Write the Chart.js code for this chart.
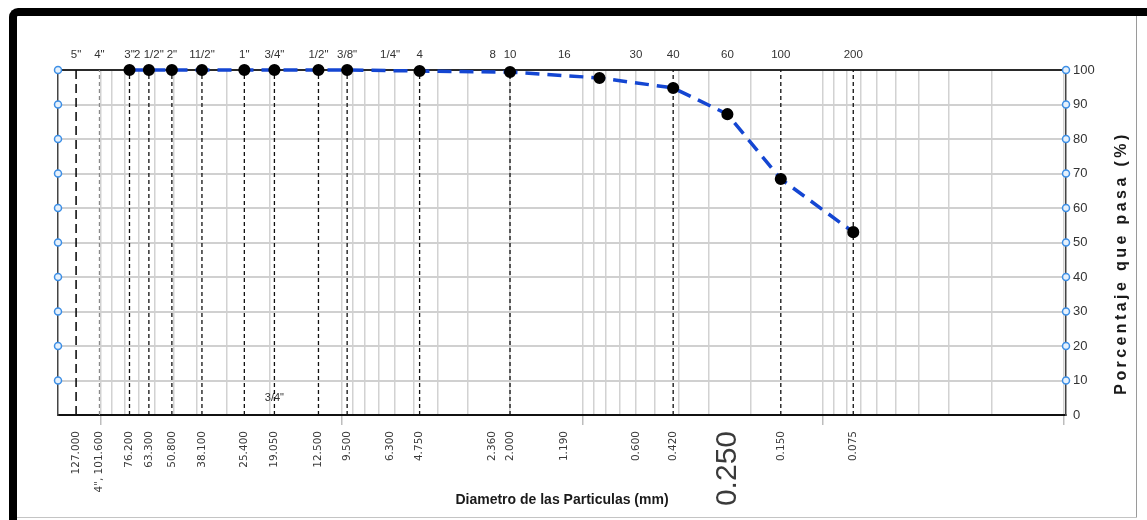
<!DOCTYPE html>
<html>
<head>
<meta charset="utf-8">
<script src="https://cdn.jsdelivr.net/npm/chart.js@4.4.0/dist/chart.umd.min.js"></script>
<style>
  body { margin: 0; background: #fff; overflow: hidden; }
  #frame { position: absolute; left: 9px; top: 8px; width: 1160px; height: 530px; border-top: 8px solid #000; border-left: 8px solid #000; border-top-left-radius: 9px; box-sizing: border-box; }
  #edgeR { position: absolute; left: 1136px; top: 16px; width: 1px; height: 502px; background: #9a9a9a; }
  #edgeB { position: absolute; left: 17px; top: 517px; width: 1120px; height: 1px; background: #c4c4c4; }
  canvas { position: absolute; left: 0; top: 0; }
</style>
</head>
<body>
<div id="frame"></div><div id="edgeR"></div><div id="edgeB"></div>
<canvas id="granChart" width="1147" height="520"></canvas>
<script>
// tamices (mm), nombre arriba, rotulo abajo
const sieveMm = [127, 101.6, 76.2, 63.3, 50.8, 38.1, 25.4, 19.05, 12.5, 9.5, 6.3, 4.75, 2.36, 2.0, 1.19, 0.6, 0.42, 0.25, 0.15, 0.075];
const sieveNames = ['5"', '4"', '3"', '2 1/2"', '2"', '11/2"', '1"', '3/4"', '1/2"', '3/8"', '1/4"', '4', '8', '10', '16', '30', '40', '60', '100', '200'];
const sieveLabels = ['127.000', '4", 101.600', '76.200', '63.300', '50.800', '38.100', '25.400', '19.050', '12.500', '9.500', '6.300', '4.750', '2.360', '2.000', '1.190', '0.600', '0.420', '0.250', '0.150', '0.075'];
const bigLabelMm = 0.25;

// lineas verticales punteadas
const guideMm = [76.2, 63.3, 50.8, 38.1, 25.4, 19.05, 12.5, 9.5, 4.75, 2.0, 0.42, 0.15, 0.075];
const guideLongMm = [127];
const guideGrayMm = [101.6];

// curva granulometrica
const testMm = [76.2, 63.3, 50.8, 38.1, 25.4, 19.05, 12.5, 9.5, 4.75, 2.0, 0.85, 0.42, 0.25, 0.15, 0.075];
const testPasa = [100, 100, 100, 100, 100, 100, 100, 100, 99.7, 99.4, 97.7, 94.8, 87.2, 68.4, 53.0];

const yTicks = [0, 10, 20, 30, 40, 50, 60, 70, 80, 90, 100];
const smallMarkMm = [127, 101.6];

const xMin = 0.0098;
const xMax = 151;
const xTitle = 'Diametro de las Particulas (mm)';
const yTitle = 'Porcentaje que pasa (%)';
const note = { text: '3/4"', mm: 19.05, y: 5 };

const gridMm = [];
[0.01, 0.1, 1, 10].forEach(d => {
  for (let m = 1; m <= 9; m++) gridMm.push(+(m * d).toPrecision(2));
});
gridMm.push(100);

const vLines = (list) => list.flatMap(d => [{x: d, y: 0}, {x: d, y: 100}, {x: d, y: null}]);
const narrow = '"Liberation Sans Narrow", "Arial Narrow", Arial, sans-serif';

Chart.defaults.font.family = narrow;

const extraText = {
  id: 'extraText',
  afterDraw(chart) {
    const {ctx, scales, chartArea} = chart;
    ctx.save();
    ctx.fillStyle = '#1a1a1a';
    ctx.font = 'bold 16px "Liberation Sans", Arial, sans-serif';
    const w = ctx.measureText(yTitle).width;
    ctx.letterSpacing = ((260 - w) / (yTitle.length - 1)).toFixed(2) + 'px';
    ctx.translate(chartArea.right + 56, 263);
    ctx.rotate(-Math.PI / 2);
    ctx.textAlign = 'center';
    ctx.textBaseline = 'middle';
    ctx.fillText(yTitle, 0, 0);
    ctx.restore();

    ctx.save();
    ctx.fillStyle = '#333';
    ctx.font = '11px ' + narrow;
    ctx.textAlign = 'center';
    ctx.textBaseline = 'middle';
    ctx.fillText(note.text, scales.x.getPixelForValue(note.mm), scales.y.getPixelForValue(note.y));
    ctx.restore();
  }
};

const ctx = document.getElementById('granChart').getContext('2d');
const granChart = new Chart(ctx, {
  type: 'line',
  data: {
    datasets: [
      {
        data: testMm.map((d, i) => ({x: d, y: testPasa[i]})),
        borderColor: '#1446d2',
        borderWidth: 3.5,
        borderDash: [14, 8],
        pointRadius: 4.3,
        pointBackgroundColor: '#000',
        pointBorderColor: '#000',
        tension: 0,
        clip: false,
        order: 0
      },
      {
        data: vLines(guideMm),
        borderColor: '#111',
        borderWidth: 1.3,
        borderDash: [4, 3],
        pointRadius: 0,
        spanGaps: false,
        order: 3
      },
      {
        data: vLines(guideLongMm),
        borderColor: '#111',
        borderWidth: 1.6,
        borderDash: [9, 5],
        pointRadius: 0,
        spanGaps: false,
        order: 3
      },
      {
        data: vLines(guideGrayMm),
        borderColor: '#8a8a8a',
        borderWidth: 1.2,
        borderDash: [4, 3],
        pointRadius: 0,
        spanGaps: false,
        order: 3
      },
      {
        data: yTicks.filter(v => v > 0).map(v => ({x: xMax, y: v})),
        showLine: false,
        pointRadius: 3.5,
        pointBorderWidth: 1.5,
        pointBorderColor: '#3d8fe6',
        pointBackgroundColor: '#e6f1fc',
        clip: false,
        order: 1
      },
      {
        data: yTicks.filter(v => v > 0).map(v => ({x: xMin, y: v})),
        showLine: false,
        pointRadius: 3.5,
        pointBorderWidth: 1.5,
        pointBorderColor: '#3d8fe6',
        pointBackgroundColor: '#e6f1fc',
        clip: false,
        order: 1
      },
      {
        data: smallMarkMm.map(d => ({x: d, y: -2})),
        showLine: false,
        pointRadius: 2.8,
        pointBorderWidth: 1.2,
        pointBorderColor: '#555',
        pointBackgroundColor: '#fff',
        clip: false,
        order: 1
      }
    ]
  },
  options: {
    responsive: false,
    animation: false,
    layout: { padding: { left: 58, top: 30, right: 0, bottom: 0 } },
    plugins: { legend: { display: false }, tooltip: { enabled: false } },
    scales: {
      x: {
        type: 'logarithmic',
        position: 'bottom',
        reverse: true,
        min: xMin,
        max: xMax,
        afterBuildTicks: s => { s.ticks = gridMm.map(v => ({value: v, major: [0.01, 0.1, 1, 10, 100].includes(v)})); },
        afterFit: s => { s.height = 10; },
        ticks: { display: false },
        grid: {
          color: '#d2d2d2',
          lineWidth: 1.5,
          drawTicks: true,
          tickLength: 10,
          tickColor: c => (c.tick && c.tick.major ? '#bdbdbd' : 'transparent')
        },
        border: { display: true, color: '#111', width: 2 }
      },
      xs: {
        type: 'logarithmic',
        position: 'bottom',
        reverse: true,
        min: xMin,
        max: xMax,
        afterBuildTicks: s => { s.ticks = sieveMm.map(v => ({value: v})); },
        afterFit: s => { s.height = 95; },
        ticks: {
          autoSkip: false,
          minRotation: 90,
          maxRotation: 90,
          padding: 6,
          color: '#3a3a3a',
          font: c => (sieveMm[c.index] === bigLabelMm
            ? {family: '"Liberation Sans", Arial, sans-serif', size: 30}
            : {family: '"DejaVu Sans", sans-serif', size: 10.5}),
          callback: (v, i) => sieveLabels[i]
        },
        grid: { display: false, drawTicks: false },
        border: { display: false },
        title: {
          display: true,
          text: xTitle,
          color: '#1a1a1a',
          font: { family: narrow, size: 14, weight: 'bold' },
          padding: { top: 11, bottom: 11 }
        }
      },
      xt: {
        type: 'logarithmic',
        position: 'top',
        reverse: true,
        min: xMin,
        max: xMax,
        afterBuildTicks: s => { s.ticks = sieveMm.map(v => ({value: v})); },
        afterFit: s => { s.height = 40; },
        ticks: {
          autoSkip: false,
          maxRotation: 0,
          padding: 8,
          color: '#333',
          font: { family: narrow, size: 11.5 },
          callback: (v, i) => sieveNames[i]
        },
        grid: { display: false, drawTicks: false },
        border: { display: true, color: '#2a2a2a', width: 2 }
      },
      y: {
        position: 'right',
        min: 0,
        max: 100,
        afterBuildTicks: s => { s.ticks = yTicks.map(v => ({value: v})); },
        afterFit: s => { s.width = 81; },
        ticks: { padding: 7, color: '#333', font: { family: narrow, size: 13 } },
        grid: {
          color: c => (c.tick && (c.tick.value === 0 || c.tick.value === 100) ? 'transparent' : '#d0d0d0'),
          lineWidth: 2,
          drawTicks: false
        },
        border: { display: true, color: '#444', width: 1.5 }
      },
      yl: {
        position: 'left',
        min: 0,
        max: 100,
        afterFit: s => { s.width = 0; },
        ticks: { display: false },
        grid: { display: false, drawTicks: false },
        border: { display: true, color: '#444', width: 1.5 }
      }
    }
  },
  plugins: [extraText]
});
</script>
</body>
</html>
